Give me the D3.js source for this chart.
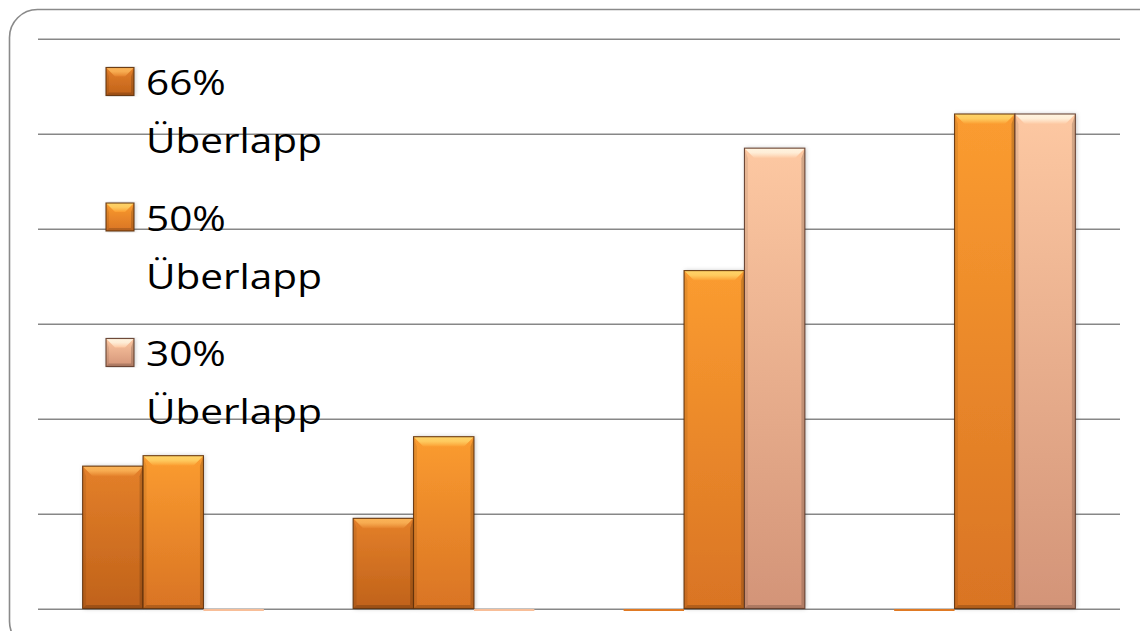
<!DOCTYPE html>
<html>
<head>
<meta charset="utf-8">
<script src="https://cdn.jsdelivr.net/npm/d3@7"></script>
<style>
  html, body { margin: 0; padding: 0; background: #fff; }
  svg { display: block; }
  .legend text { font-family: "Open Sans", Lato, sans-serif; font-size: 34px; fill: #000; }
</style>
</head>
<body>
<svg id="chart" width="1140" height="631"></svg>
<script>
// Groups along the x axis (no labels are shown for them)
const categories = ["1", "2", "3", "4"];
// One name per series, shown in the legend as "<share>" + "Überlapp"
const seriesShares = ["66%", "50%", "30%"];
const seriesWord = "Überlapp";
// Values per series, one per group
const s66 = [15.0, 9.5, 0, 0];
const s50 = [16.1, 18.1, 35.6, 52.1];
const s30 = [0, 0, 48.5, 52.1];
// Gridline values
const gridTicks = [0, 10, 20, 30, 40, 50, 60];

const seriesValues = [s66, s50, s30];

// Fill styles for each series: top/bottom body colours, bevel highlight
const palette = [
  { top: "#E4802A", bottom: "#C0621A", light: "#FBB458", edge: "#5E300A", zero: "#E07A24" },
  { top: "#FB9C30", bottom: "#D97424", light: "#FFD468", edge: "#5E300A", zero: "#F39226" },
  { top: "#FDC8A2", bottom: "#D39478", light: "#FFF4E0", edge: "#5E3828", zero: "#F8BE98" }
];

const svg = d3.select("#chart");
const plot = { left: 38, right: 1120, top: 39, bottom: 608.5 };

const defs = svg.append("defs");
palette.forEach((p, i) => {
  const g = defs.append("linearGradient").attr("id", "body" + i)
    .attr("x1", 0).attr("y1", 0).attr("x2", 0).attr("y2", 1);
  g.append("stop").attr("offset", "0%").attr("stop-color", p.top);
  g.append("stop").attr("offset", "100%").attr("stop-color", p.bottom);
  const b = defs.append("linearGradient").attr("id", "bevel" + i)
    .attr("x1", 0).attr("y1", 0).attr("x2", 0).attr("y2", 1);
  b.append("stop").attr("offset", "0%").attr("stop-color", p.light);
  b.append("stop").attr("offset", "45%").attr("stop-color", p.light).attr("stop-opacity", 0.85);
  b.append("stop").attr("offset", "100%").attr("stop-color", p.top);
});
const shadow = defs.append("filter").attr("id", "shadow")
  .attr("x", "-20%").attr("y", "-5%").attr("width", "140%").attr("height", "110%");
shadow.append("feDropShadow").attr("dx", 1).attr("dy", 0).attr("stdDeviation", 2)
  .attr("flood-color", "#000").attr("flood-opacity", 0.25);

// Rounded frame around the whole chart (continues past the right and bottom edges)
svg.append("rect")
  .attr("x", 9.5).attr("y", 9.5)
  .attr("width", 1160).attr("height", 640)
  .attr("rx", 28).attr("ry", 28)
  .attr("fill", "none").attr("stroke", "#8a8a8a").attr("stroke-width", 1.6);

// Scales
const x0 = d3.scaleBand().domain(categories)
  .range([plot.left, plot.right]).paddingInner(0.33).paddingOuter(0.165);
const x1 = d3.scaleBand().domain(d3.range(seriesValues.length))
  .range([0, x0.bandwidth()]).padding(0);
const y = d3.scaleLinear().domain([0, 60]).range([plot.bottom, plot.top]);

// Horizontal gridlines
svg.append("g").selectAll("line").data(gridTicks).join("line")
  .attr("x1", plot.left).attr("x2", plot.right)
  .attr("y1", d => Math.round(y(d)) + 0.25).attr("y2", d => Math.round(y(d)) + 0.25)
  .attr("stroke", "#878787").attr("stroke-width", 1.6);

// Draws one bevelled block
function bevelBlock(g, x, yTop, w, h, si, bevel, side) {
  const p = palette[si];
  const b = Math.min(bevel, h / 2, w / 2);
  g.append("rect").attr("x", x).attr("y", yTop).attr("width", w).attr("height", h)
    .attr("fill", `url(#body${si})`).attr("filter", "url(#shadow)");
  // top face
  g.append("polygon")
    .attr("points", [[x, yTop], [x + w, yTop], [x + w - b, yTop + b], [x + b, yTop + b]].join(" "))
    .attr("fill", `url(#bevel${si})`);
  // left and right faces
  g.append("polygon")
    .attr("points", [[x, yTop], [x + side, yTop + b], [x + side, yTop + h - side], [x, yTop + h]].join(" "))
    .attr("fill", "#000").attr("opacity", 0.08);
  g.append("polygon")
    .attr("points", [[x + w, yTop], [x + w - side, yTop + b], [x + w - side, yTop + h - side], [x + w, yTop + h]].join(" "))
    .attr("fill", "#000").attr("opacity", 0.16);
  // bottom face
  g.append("polygon")
    .attr("points", [[x, yTop + h], [x + side, yTop + h - side], [x + w - side, yTop + h - side], [x + w, yTop + h]].join(" "))
    .attr("fill", "#000").attr("opacity", 0.18);
  // outline
  g.append("rect").attr("x", x).attr("y", yTop).attr("width", w).attr("height", h)
    .attr("fill", "none").attr("stroke", p.edge).attr("stroke-width", 1.1).attr("stroke-opacity", 0.9);
}

// Bars
const bars = svg.append("g");
categories.forEach((c, ci) => {
  seriesValues.forEach((vals, si) => {
    const v = vals[ci];
    const x = x0(c) + x1(si);
    const w = x1.bandwidth();
    const g = bars.append("g");
    if (v > 0) {
      const yTop = y(v);
      bevelBlock(g, x, yTop, w, y(0) - yTop, si, 10, 3.5);
    } else {
      g.append("rect").attr("x", x).attr("y", y(0) + 0.5).attr("width", w).attr("height", 2)
        .attr("fill", palette[si].zero);
    }
  });
});

// Legend
const legend = svg.append("g").attr("class", "legend");
const baseY = 95.5, entryStep = 135.5, lineStep = 58;
const textX = 146, swatchX = 106, swatch = 28;
// measure natural width of the word to stretch text to the target width
const probe = legend.append("text").text(seriesWord);
const natural = probe.node().getComputedTextLength();
probe.remove();
const sx = 176 / natural;

seriesShares.forEach((share, i) => {
  const by = baseY + i * entryStep;
  const g = legend.append("g");
  bevelBlock(g, swatchX, by - swatch, swatch, swatch, i, 9, 3);
  const t = g.append("g").attr("transform", `translate(${textX},0) scale(${sx},1)`);
  t.append("text").attr("x", 0).attr("y", by).text(share);
  t.append("text").attr("x", 0).attr("y", by + lineStep).text(seriesWord);
});
</script>
</body>
</html>
